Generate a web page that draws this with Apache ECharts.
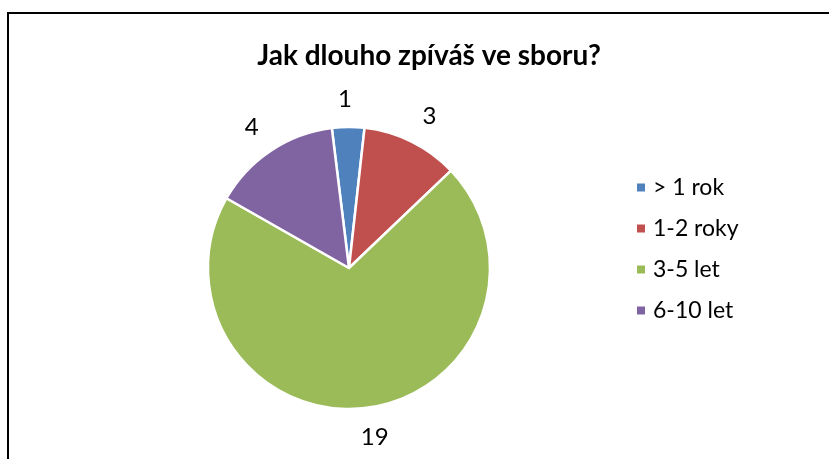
<!DOCTYPE html>
<html>
<head>
<meta charset="utf-8">
<script src="https://cdn.jsdelivr.net/npm/echarts@6/dist/echarts.min.js"></script>
<style>
  html, body { margin: 0; padding: 0; background: #fff; }
  #chart { width: 829px; height: 459px; }
</style>
</head>
<body>
<div id="chart"></div>
<script>
var categories = ['> 1 rok', '1-2 roky', '3-5 let', '6-10 let'];
var values = [1, 3, 19, 4];
var colors = ['#4F81BD', '#C0504D', '#9BBB59', '#8064A2'];

var myChart = echarts.init(document.getElementById('chart'));
var option = {
    animation: false,
    color: colors,
    title: {
        text: 'Jak dlouho zpíváš ve sboru?',
        left: 424,
        top: 37,
        textAlign: 'center',
        textStyle: {
            fontFamily: 'Lato',
            fontWeight: 'bold',
            fontSize: 28,
            color: '#000'
        }
    },
    legend: {
        orient: 'vertical',
        left: 630,
        top: 171,
        icon: 'rect',
        itemWidth: 10,
        itemHeight: 10,
        itemGap: 18,
        data: categories,
        textStyle: {
            fontFamily: 'Lato',
            fontSize: 23,
            color: '#000',
            padding: [0, 0, 0, 2]
        }
    },
    graphic: [{
        type: 'rect',
        shape: { x: 8, y: 13, width: 900, height: 600 },
        style: { fill: 'none', stroke: '#000', lineWidth: 2 }
    }],
    series: [{
        type: 'pie',
        center: [349, 268],
        radius: 141,
        startAngle: 97,
        clockwise: true,
        avoidLabelOverlap: false,
        itemStyle: {
            borderColor: '#fff',
            borderWidth: 2.5
        },
        label: {
            show: true,
            position: 'outside',
            formatter: '{c}',
            fontFamily: 'Lato',
            fontSize: 24,
            color: '#000'
        },
        labelLine: { show: false, length: 29, length2: 0 },
        // centre each value label on its anchor point instead of left/right aligning it
        labelLayout: function (p) {
            var r = p.labelRect;
            var x = r.x + r.width / 2;
            if (p.align === 'right') x = r.x + r.width + 2;
            else if (p.align === 'left') x = r.x;
            return { x: x, y: r.y + r.height / 2 + 1, align: 'center', verticalAlign: 'middle' };
        },
        data: categories.map(function (name, i) {
            return { name: name, value: values[i] };
        })
    }]
};
myChart.setOption(option);
</script>
</body>
</html>
